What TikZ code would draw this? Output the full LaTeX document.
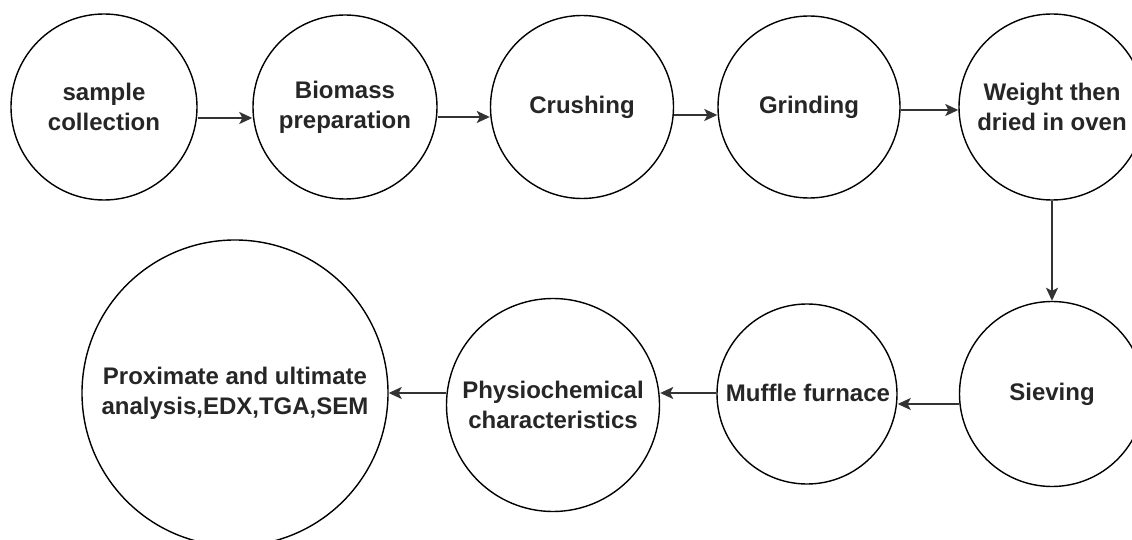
\documentclass[tikz,border=0pt]{standalone}
\usepackage{fontspec}
\setmainfont{Liberation Sans}
\usetikzlibrary{arrows.meta}
\begin{document}
\begin{tikzpicture}[x=1bp,y=-1bp,
  stage/.style={circle, draw=black, line width=1.4bp, inner sep=0pt, align=center,
    font=\bfseries\fontsize{24bp}{30bp}\selectfont, text=black!85},
  arr/.style={draw=black!80, line width=1.6bp, -{Stealth[length=13bp,width=12bp,inset=3bp]}}]
\useasboundingbox (0,0) rectangle (1132,540);
\clip (0,0) rectangle (1132,540);
\node[stage, minimum size=186bp] (c1) at (104,107) {sample\\collection};
\node[stage, minimum size=184bp] (c2) at (345,107) {Biomass\\preparation};
\node[stage, minimum size=183bp] (c3) at (582,107) {Crushing};
\node[stage, minimum size=182bp] (c4) at (809,107) {Grinding};
\node[stage, minimum size=186bp] (c5) at (1052,107) {Weight then\\dried in oven};
\node[stage, minimum size=185bp] (c6) at (1052,394) {Sieving};
\node[stage, minimum size=180bp] (c7) at (807,394) {};
\node[font=\bfseries\fontsize{24bp}{30bp}\selectfont, text=black!85] (t7) at (808,393) {Muffle furnace};
\node[stage, minimum size=213bp] (c8) at (553,405) {Physiochemical\\characteristics};
\node[stage, minimum size=306bp] (c9) at (235,393) {Proximate and ultimate\\analysis,EDX,TGA,SEM};
\draw[arr] (c1.east |- 0,118) -- (c2.west |- 0,118);
\draw[arr] (c2.east |- 0,117) -- (c3.west |- 0,117);
\draw[arr] (c3.east |- 0,115) -- (c4.west |- 0,115);
\draw[arr] (c4.east |- 0,110) -- (c5.west |- 0,110);
\draw[arr] (c5.south) -- (c6.north);
\draw[arr] (c6.west |- 0,404) -- (c7.east |- 0,404);
\draw[arr] (c7.west |- 0,393) -- (c8.east |- 0,393);
\draw[arr] (c8.west |- 0,393) -- (c9.east |- 0,393);
\end{tikzpicture}
\end{document}
